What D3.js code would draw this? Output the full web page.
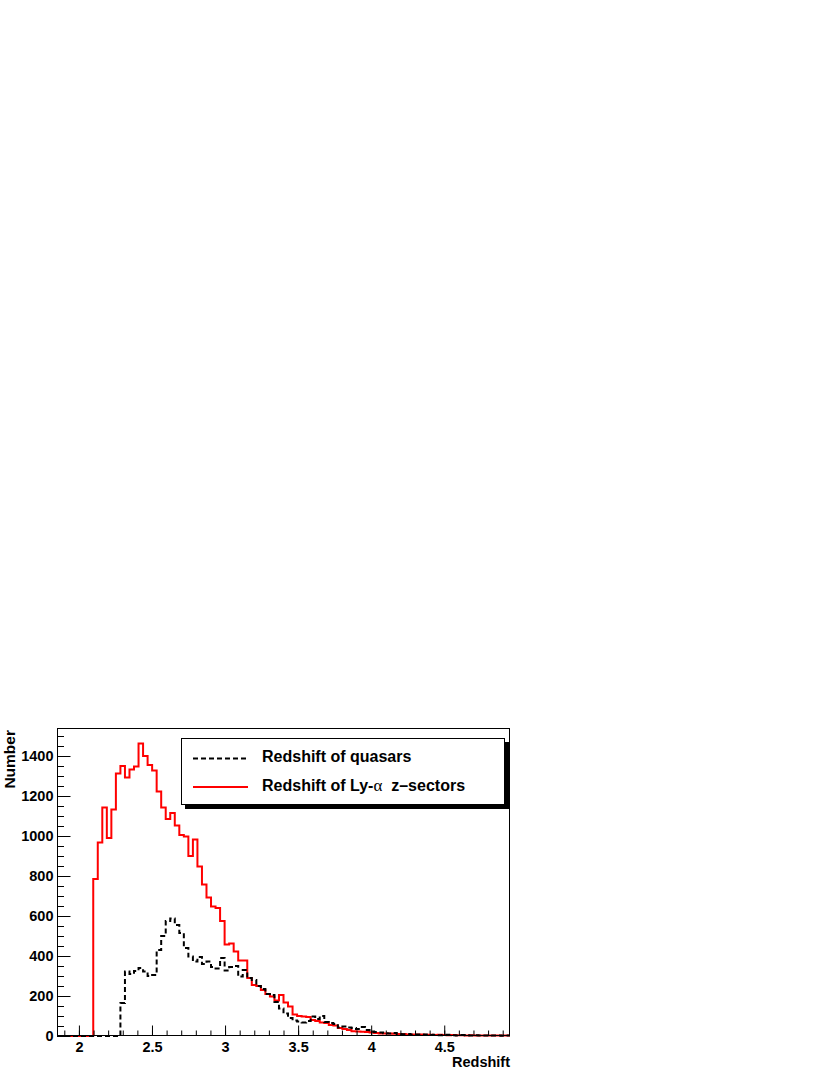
<!DOCTYPE html>
<html>
<head>
<meta charset="utf-8">
<script src="https://cdn.jsdelivr.net/npm/d3@7"></script>
<style>
  html, body { margin: 0; padding: 0; background: #fff; }
  svg { display: block; }
  text { font-family: "Liberation Sans", Arial, Helvetica, sans-serif; font-weight: bold; }
</style>
</head>
<body>
<svg id="chart" width="830" height="1075"></svg>
<script>
// ---- data ----
const binStart = 1.85;
const binWidth = 0.031;
const xDomain = [1.85, 4.95];
const yDomain = [0, 1540];

const lyaSectors = [
  0, 0, 0, 0, 0, 0, 0, 0,
  785, 967, 1143, 990, 1133, 1312, 1350, 1293, 1333, 1347,
  1463, 1400, 1355, 1327, 1222, 1143, 1085, 1115, 1053, 1005,
  997, 900, 983, 847, 758, 692, 647, 640, 575, 458,
  462, 422, 377, 377, 290, 255, 250, 230, 210, 197,
  178, 205, 167, 148, 108, 100, 98, 95, 80, 75,
  68, 65, 55, 52, 40, 35, 30, 24, 22, 21,
  20, 18, 15, 13, 12, 12, 11, 10, 10, 8,
  8, 7, 7, 6, 6, 5, 6, 5, 4, 5,
  4, 4, 3, 4, 3, 3, 2, 3, 2, 2,
  2, 2
];

const quasars = [
  0, 0, 0, 0, 0, 0, 0, 0, 0, 0, 0, 0, 0, 0,
  165, 322, 310, 325, 340, 322, 300, 305, 430, 500,
  575, 588, 555, 515, 440, 397, 372, 395, 360, 372,
  345, 338, 390, 327, 345, 350, 297, 330, 290, 280,
  250, 235, 210, 205, 170, 138, 112, 90, 78, 72,
  68, 75, 97, 85, 100, 70, 65, 60, 42, 48,
  42, 40, 35, 45, 30, 22, 20, 18, 14, 12,
  15, 10, 9, 10, 7, 8, 6, 7, 5, 6,
  4, 5, 6, 4, 3, 5, 4, 3, 4, 3,
  2, 3, 2, 2, 1, 2
];

const yMajorTicks = [0, 200, 400, 600, 800, 1000, 1200, 1400];
const xMajorTicks = [2, 2.5, 3, 3.5, 4, 4.5];
const xTickLabels = ["2", "2.5", "3", "3.5", "4", "4.5"];

const legendLabels = ["Redshift of quasars", "Redshift of Ly-", "\u03b1", "\u00a0\u00a0z\u2013sectors"];
const yTitle = "Number";
const xTitle = "Redshift";

// ---- layout ----
const L = 57, R = 510, T = 728, B = 1036;
const svg = d3.select("#chart");

const x = d3.scaleLinear().domain(xDomain).range([L, R]);
const y = d3.scaleLinear().domain(yDomain).range([B, T]);

function stepPoints(vals) {
  const pts = [];
  vals.forEach((v, i) => {
    const x0 = binStart + i * binWidth;
    pts.push([x0, v]);
    pts.push([x0 + binWidth, v]);
  });
  return pts;
}
const line = d3.line().x(d => x(d[0])).y(d => y(d[1]));

svg.append("clipPath").attr("id", "clip")
  .append("rect").attr("x", L).attr("y", T).attr("width", R - L).attr("height", B - T + 1);

const g = svg.append("g").attr("clip-path", "url(#clip)");

g.append("path")
  .attr("d", line(stepPoints(lyaSectors)))
  .attr("fill", "none").attr("stroke", "#ff0000").attr("stroke-width", 2);

g.append("path")
  .attr("d", line(stepPoints(quasars)))
  .attr("fill", "none").attr("stroke", "#000").attr("stroke-width", 2)
  .attr("stroke-dasharray", "5,3");

// frame
svg.append("rect")
  .attr("x", L + 0.5).attr("y", T + 0.5)
  .attr("width", R - L - 1).attr("height", B - T - 1)
  .attr("fill", "none").attr("stroke", "#000").attr("stroke-width", 1);

// Y axis
const yMinor = d3.range(0, 1540, 50);
svg.append("g").attr("transform", `translate(${L + 0.5},0)`)
  .call(d3.axisLeft(y).tickValues(yMinor).tickSize(-6.5).tickFormat(""))
  .call(s => s.select(".domain").remove());
svg.append("g").attr("transform", `translate(${L + 0.5},0)`)
  .call(d3.axisLeft(y).tickValues(yMajorTicks).tickSize(-13).tickPadding(4).tickFormat(d3.format("d")))
  .call(s => s.select(".domain").remove())
  .call(s => s.selectAll("text").attr("font-size", 14.5).attr("fill", "#000"));

// X axis
const xMinor = d3.range(19, 50).map(d => d / 10);
svg.append("g").attr("transform", `translate(0,${B - 0.5})`)
  .call(d3.axisBottom(x).tickValues(xMinor).tickSize(-5).tickFormat(""))
  .call(s => s.select(".domain").remove());
svg.append("g").attr("transform", `translate(0,${B - 0.5})`)
  .call(d3.axisBottom(x).tickValues(xMajorTicks).tickSize(-10).tickPadding(6)
    .tickFormat((d, i) => xTickLabels[i]))
  .call(s => s.select(".domain").remove())
  .call(s => s.selectAll("text").attr("font-size", 14.5).attr("fill", "#000"));

svg.selectAll(".tick line").attr("stroke", "#000").attr("stroke-width", 1);

// axis titles
svg.append("text")
  .attr("transform", `translate(15,${T + 2}) rotate(-90)`)
  .attr("text-anchor", "end").attr("font-size", 15.5).text(yTitle);
svg.append("text")
  .attr("x", R).attr("y", 1066.5)
  .attr("text-anchor", "end").attr("font-size", 14.5).text(xTitle);

// legend
const lg = svg.append("g");
lg.append("rect").attr("x", 185).attr("y", 742).attr("width", 324).attr("height", 67).attr("fill", "#000");
lg.append("rect").attr("x", 181.5).attr("y", 738.5).attr("width", 323).attr("height", 66)
  .attr("fill", "#fff").attr("stroke", "#000").attr("stroke-width", 1);
lg.append("line").attr("x1", 193).attr("x2", 248).attr("y1", 758.5).attr("y2", 758.5)
  .attr("stroke", "#000").attr("stroke-width", 2).attr("stroke-dasharray", "5,3");
lg.append("line").attr("x1", 193).attr("x2", 248).attr("y1", 787).attr("y2", 787)
  .attr("stroke", "#ff0000").attr("stroke-width", 2);
lg.append("text").attr("x", 262).attr("y", 762).attr("font-size", 16).text(legendLabels[0]);
const t2 = lg.append("text").attr("x", 262).attr("y", 791).attr("font-size", 16);
t2.append("tspan").text(legendLabels[1]);
t2.append("tspan").attr("font-family", "'Liberation Serif', 'DejaVu Serif', serif")
  .attr("font-weight", "normal").attr("font-size", 17).text(legendLabels[2]);
t2.append("tspan").text(legendLabels[3]);
</script>
</body>
</html>
